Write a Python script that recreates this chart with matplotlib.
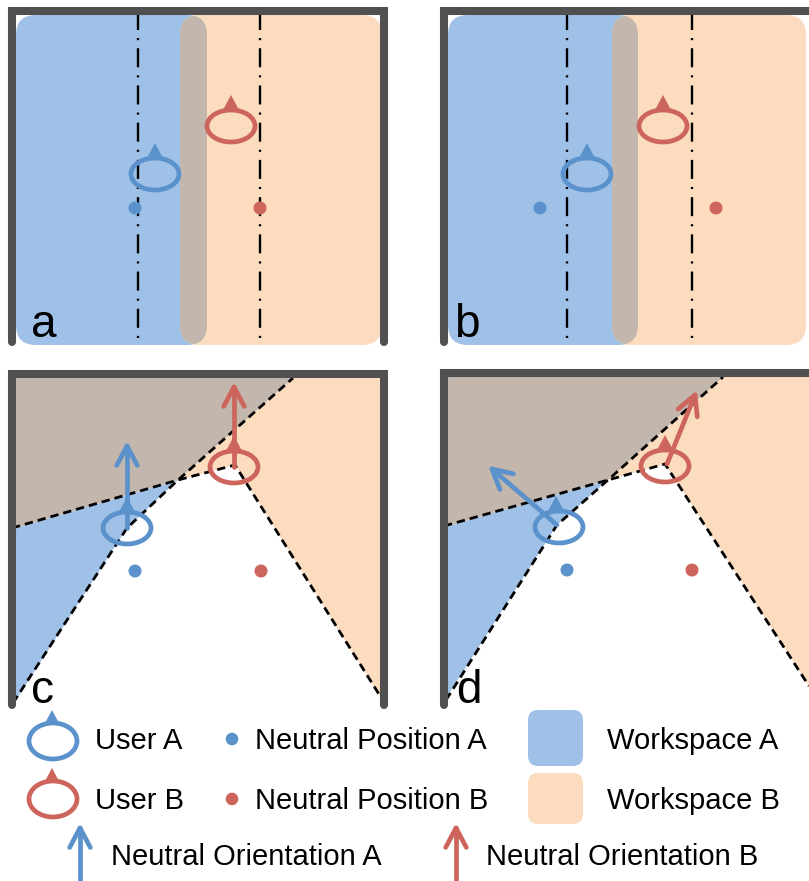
import matplotlib
matplotlib.use("Agg")
import matplotlib.pyplot as plt
import numpy as np
from matplotlib.patches import Ellipse, Polygon, Circle, FancyBboxPatch

plt.rcParams['font.family'] = ['Liberation Sans', 'DejaVu Sans']
plt.rcParams['lines.scale_dashes'] = False

# colours
BLUE_FILL = '#9fc1e8'
ORANGE_FILL = '#fcdcbe'
OVERLAP = '#c2b6ad'
BLUE = '#5b92cb'
RED = '#ce655c'
WALL = '#505050'

# --- scene data (pixel coords, y down) ---
panel_labels = ['a', 'b', 'c', 'd']
label_xy = [(31, 337), (454, 337), (31, 703), (456, 703)]

# walls of the room per panel
walls = [
    [(12, 342), (12, 11), (384, 11), (384, 342)],
    [(444, 342), (444, 11), (815, 11)],
    [(12, 705), (12, 374), (384, 374), (384, 705)],
    [(444, 705), (444, 373), (815, 373)],
]

# users (ellipse centre) per panel
user_a = [(155, 174), (587, 174), (127, 528), (559, 527)]
user_b = [(231, 126), (663, 126), (234, 467), (665, 466)]
tri_a_x = [155, 587, 127, 556]
tri_b_x = [231, 663, 234, 665]
neutral_a = [(135, 208), (540, 208), (135, 571), (567, 570)]
neutral_b = [(260, 208), (716, 208), (261, 571), (692, 570)]

# neutral orientation arrows (panels c, d): start -> tip
orient_a = [((127, 528), (127, 446)), ((557, 525), (492, 469))]
orient_b = [((234, 467), (234, 387)), ((667, 464), (695, 395))]

# panels a, b: rectangular workspaces (x0, x1) and split lines
ws_y = (15, 345)
ws_a_x = [(16, 207), (448, 638)]
ws_b_x = [(180, 382), (612, 806)]
split_x = [(138, 260), (567, 692)]

# panels c, d: polygonal workspaces and boundaries
overlap_poly = [
    [(16, 378), (293, 378), (178, 480), (16, 528)],
    [(448, 377), (723, 377), (608, 480), (448, 526)],
]
ws_a_poly = [
    [(16, 528), (178, 480), (127, 528), (16, 700)],
    [(448, 526), (608, 480), (557, 525), (448, 695)],
]
ws_b_poly = [
    [(293, 378), (381, 378), (381, 698), (235, 465), (178, 480)],
    [(723, 377), (809, 377), (809, 686), (665, 464), (608, 480)],
]
boundary_1 = [
    [(12, 528), (178, 480), (235, 465), (382, 699)],
    [(444, 526), (608, 480), (665, 464), (809, 686)],
]
boundary_2 = [
    [(13, 703), (127, 528), (178, 480), (293, 378)],
    [(446, 700), (557, 525), (608, 480), (723, 377)],
]

legend_text = ['User A', 'User B', 'Neutral Position A', 'Neutral Position B',
               'Workspace A', 'Workspace B', 'Neutral Orientation A', 'Neutral Orientation B']


def user_icon(ax, xy, tx, color, h=32):
    cx, cy = xy
    ax.add_patch(Ellipse((cx, cy), 48, h, fill=False, ec=color, lw=3.4, zorder=5))
    ax.add_patch(Polygon([(tx - 8, cy - 16), (tx + 8, cy - 16), (tx, cy - 31)],
                         closed=True, fc=color, ec='none', zorder=5))


def arrow(ax, start, tip, color, wing=22, ang=28):
    s = np.array(start, float)
    t = np.array(tip, float)
    u = (t - s) / np.linalg.norm(t - s)
    ax.plot([s[0], t[0]], [s[1], t[1]], color=color, lw=3.4,
            solid_capstyle='round', zorder=6)
    for sgn in (1, -1):
        a = np.deg2rad(ang * sgn)
        r = np.array([[np.cos(a), -np.sin(a)], [np.sin(a), np.cos(a)]])
        w = t - wing * (r @ u)
        ax.plot([t[0], w[0]], [t[1], w[1]], color=color, lw=3.4,
                solid_capstyle='round', zorder=6)


fig = plt.figure(figsize=(8.09, 8.81), dpi=100)
ax = fig.add_axes([0, 0, 1, 1])
ax.set_xlim(0, 809)
ax.set_ylim(881, 0)
ax.axis('off')

# panels a and b
for i in range(2):
    y0, y1 = ws_y
    xa0, xa1 = ws_a_x[i]
    xb0, xb1 = ws_b_x[i]
    pa = FancyBboxPatch((xa0, y0), xa1 - xa0, y1 - y0,
                        boxstyle='round,pad=0,rounding_size=20',
                        fc=BLUE_FILL, ec='none', zorder=1)
    pb = FancyBboxPatch((xb0, y0), xb1 - xb0, y1 - y0,
                        boxstyle='round,pad=0,rounding_size=20',
                        fc=ORANGE_FILL, ec='none', zorder=1)
    po = FancyBboxPatch((xa0, y0), xa1 - xa0, y1 - y0,
                        boxstyle='round,pad=0,rounding_size=20',
                        fc=OVERLAP, ec='none', zorder=2)
    ax.add_patch(pa)
    ax.add_patch(pb)
    ax.add_patch(po)
    po.set_clip_path(pb)
    for sx in split_x[i]:
        ax.plot([sx, sx], [11, 345], color='black', lw=1.7,
                ls=(0, (13.7, 5.8, 1.5, 5.8)), zorder=3)

# panels c and d
for i in range(2):
    ax.add_patch(Polygon(ws_a_poly[i], closed=True, fc=BLUE_FILL, ec='none', zorder=1))
    ax.add_patch(Polygon(ws_b_poly[i], closed=True, fc=ORANGE_FILL, ec='none', zorder=1))
    ax.add_patch(Polygon(overlap_poly[i], closed=True, fc=OVERLAP, ec='none', zorder=1))
    for line in (boundary_1[i], boundary_2[i]):
        xs, ys = zip(*line)
        ax.plot(xs, ys, color='black', lw=2.0, ls=(0, (6.0, 3.6)), zorder=3)

# users, neutral positions
for i in range(4):
    ax.add_patch(Circle(neutral_a[i], 6.5, fc=BLUE, ec='none', zorder=4))
    ax.add_patch(Circle(neutral_b[i], 6.5, fc=RED, ec='none', zorder=4))
    user_icon(ax, user_a[i], tri_a_x[i], BLUE)
    user_icon(ax, user_b[i], tri_b_x[i], RED)

for (s, t) in orient_a:
    arrow(ax, s, t, BLUE)
for (s, t) in orient_b:
    arrow(ax, s, t, RED)

# walls
for w in walls:
    xs, ys = zip(*w)
    ax.plot(xs, ys, color=WALL, lw=5.8, solid_capstyle='round',
            solid_joinstyle='miter', zorder=8)

for lab, (lx, ly) in zip(panel_labels, label_xy):
    ax.text(lx, ly, lab, fontsize=33, va='baseline', ha='left', color='black', zorder=9)

# legend
fs = 21
user_icon(ax, (53, 741), 52, BLUE, h=36)
user_icon(ax, (53, 799), 52, RED, h=36)
ax.text(95, 749, legend_text[0], fontsize=fs, va='baseline')
ax.text(95, 809, legend_text[1], fontsize=fs, va='baseline')
ax.add_patch(Circle((232, 739), 6.3, fc=BLUE, ec='none'))
ax.add_patch(Circle((232, 799), 6.3, fc=RED, ec='none'))
ax.text(255, 749, legend_text[2], fontsize=fs, va='baseline')
ax.text(255, 809, legend_text[3], fontsize=fs, va='baseline')
ax.add_patch(FancyBboxPatch((528, 710), 55, 56, boxstyle='round,pad=0,rounding_size=10',
                            fc=BLUE_FILL, ec='none'))
ax.add_patch(FancyBboxPatch((528, 773), 55, 51, boxstyle='round,pad=0,rounding_size=10',
                            fc=ORANGE_FILL, ec='none'))
ax.text(607, 749, legend_text[4], fontsize=fs, va='baseline')
ax.text(607, 809, legend_text[5], fontsize=fs, va='baseline')
arrow(ax, (80, 890), (80, 828), BLUE)
arrow(ax, (456, 890), (456, 828), RED)
ax.text(111, 865, legend_text[6], fontsize=fs, va='baseline')
ax.text(486, 865, legend_text[7], fontsize=fs, va='baseline')

fig.savefig('out.png', dpi=100)
